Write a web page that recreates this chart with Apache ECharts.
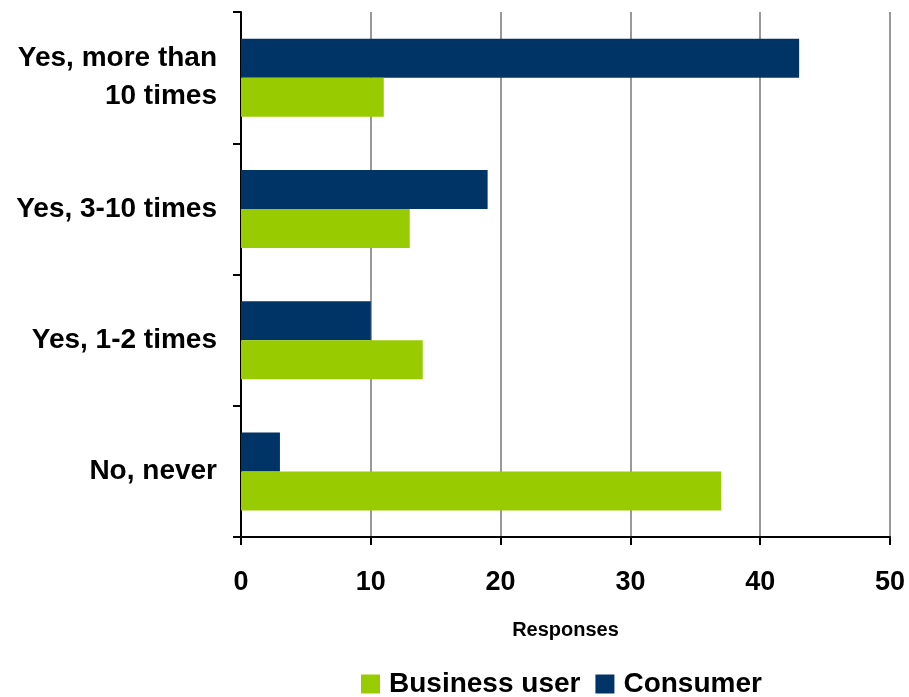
<!DOCTYPE html>
<html>
<head>
<meta charset="utf-8">
<script src="https://cdn.jsdelivr.net/npm/echarts@6/dist/echarts.min.js"></script>
<style>
html,body{margin:0;padding:0;background:#fff;}
#chart{width:909px;height:697px;}
</style>
</head>
<body>
<div id="chart"></div>
<script>
const categories = ["Yes, more than\n10 times", "Yes, 3-10 times", "Yes, 1-2 times", "No, never"];
const consumer = [43, 19, 10, 3];
const business = [11, 13, 14, 37];
const xTicks = [0, 10, 20, 30, 40, 50];

const chart = echarts.init(document.getElementById('chart'));
const font = 'Liberation Sans, Arial, sans-serif';
chart.setOption({
  animation: false,
  textStyle: {fontFamily: font},
  grid: {left: 241, right: 19, top: 12, bottom: 160, containLabel: false},
  xAxis: {
    type: 'value', min: xTicks[0], max: xTicks[xTicks.length-1], interval: 10,
    name: 'Responses', nameLocation: 'middle', nameGap: 83,
    nameTextStyle: {fontFamily: font, fontWeight: 'bold', fontSize: 20, color: '#000'},
    axisLine: {show: true, lineStyle: {color: '#000', width: 2}},
    axisTick: {show: true, length: 8, lineStyle: {color: '#000', width: 2}},
    axisLabel: {fontFamily: font, fontWeight: 'bold', fontSize: 27, color: '#000', margin: 32},
    splitLine: {show: true, lineStyle: {color: '#999999', width: 2}}
  },
  yAxis: {
    type: 'category', data: categories, inverse: true,
    axisLine: {show: true, lineStyle: {color: '#000', width: 2}},
    axisTick: {show: true, length: 8, lineStyle: {color: '#000', width: 2}},
    axisLabel: {fontFamily: font, fontWeight: 'bold', fontSize: 28, color: '#000', margin: 24, lineHeight: 38, align: 'right'},
    splitLine: {show: false}
  },
  legend: {
    data: ['Business user', 'Consumer'],
    top: 665, left: 356,
    itemWidth: 19, itemHeight: 19, itemGap: 15, icon: 'rect',
    textStyle: {fontFamily: font, fontWeight: 'bold', fontSize: 28, color: '#000', padding: [0, 0, 0, 4]}
  },
  series: [
    {name: 'Consumer', type: 'bar', data: consumer, barWidth: 39, barGap: '0%',
     itemStyle: {color: '#003366'}},
    {name: 'Business user', type: 'bar', data: business, barWidth: 39, barGap: '0%',
     itemStyle: {color: '#99CC00'}}
  ]
});
</script>
</body>
</html>
